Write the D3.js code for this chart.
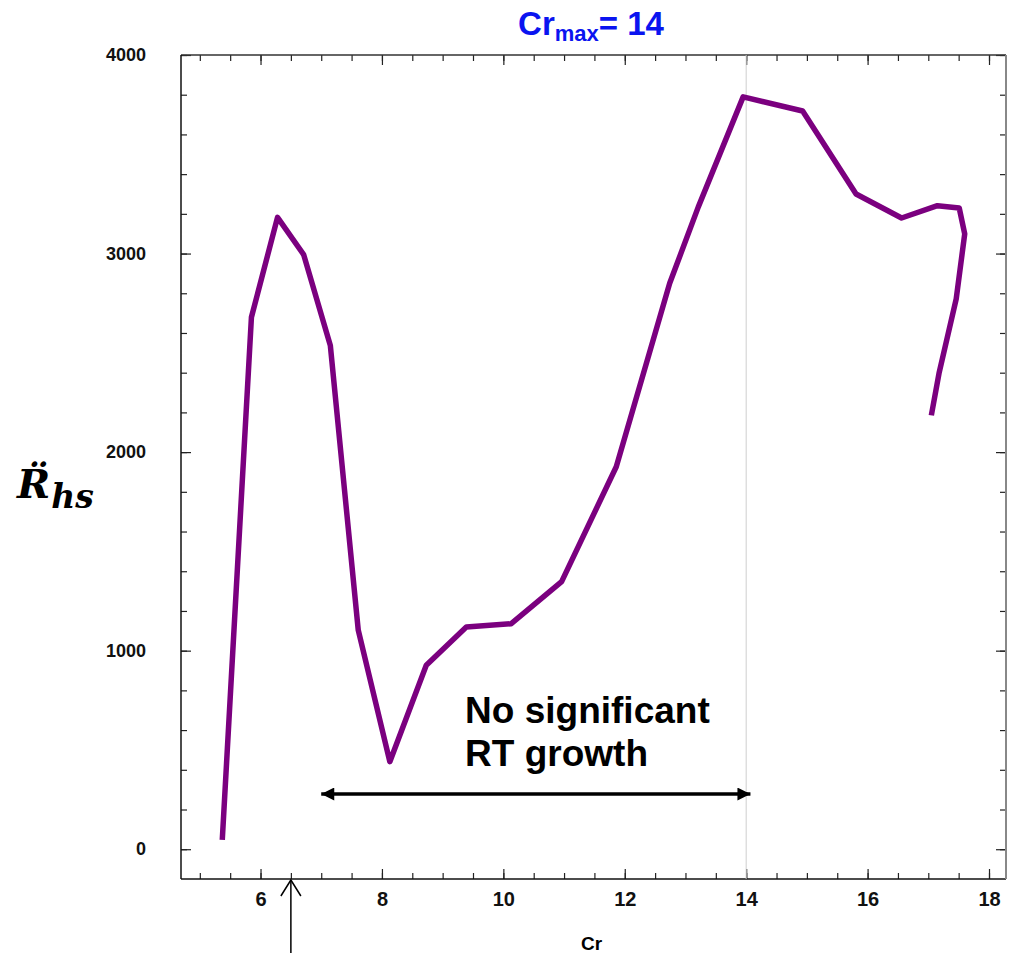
<!DOCTYPE html>
<html>
<head>
<meta charset="utf-8">
<script src="https://cdn.jsdelivr.net/npm/d3@7"></script>
<style>
  html, body { margin: 0; padding: 0; background: #fff; }
  svg { display: block; }
</style>
</head>
<body>
<div id="chart"></div>
<script>
// values
const cr = [5.37, 5.85, 6.28, 6.71, 7.15, 7.61, 8.13, 8.73, 9.39, 10.13,
  10.96, 11.86, 12.74, 13.21, 13.95, 14.93, 15.81, 16.56, 17.15, 17.51, 17.60, 17.46, 17.18, 17.05];
const rhs = [47, 2679, 3182, 2995, 2537, 1103, 441, 927, 1119, 1136,
  1348, 1926, 2850, 3234, 3789, 3718, 3300, 3179, 3241, 3229, 3099, 2772, 2402, 2185];
const xTicks = [6, 8, 10, 12, 14, 16, 18];
const yTicks = [0, 1000, 2000, 3000, 4000];
const crMax = 14;
const rangeArrow = [7.0, 14.07];   // "No significant RT growth" span
const rangeArrowLevel = 278;
const markerCr = 6.5;              // arrow under the axis
const noteLines = ["No significant", "RT growth"];

const width = 1015, height = 953;
const margin = { top: 55, right: 9, bottom: 74, left: 181 };
const innerW = width - margin.left - margin.right;
const innerH = height - margin.top - margin.bottom;

const svg = d3.select("#chart").append("svg")
  .attr("width", width)
  .attr("height", height);

const g = svg.append("g")
  .attr("transform", "translate(" + margin.left + "," + margin.top + ")");

const x = d3.scaleLinear().domain([4.69, 18.28]).range([0, innerW]);
const y = d3.scaleLinear().domain([-150, 4000]).range([innerH, 0]);

const font = "'Liberation Sans', Arial, sans-serif";

// minor ticks
const xMinor = d3.range(5, 18.01, 0.5);
const yMinor = d3.range(0, 4000.1, 200);

function styleAxis(sel) {
  sel.select(".domain").remove();
  sel.selectAll(".tick line").attr("stroke", "#222").attr("stroke-width", 1.2);
  sel.selectAll("text")
    .attr("font-family", font)
    .attr("font-weight", "bold")
    .attr("fill", "#111");
}

// bottom
g.append("g").attr("transform", "translate(0," + innerH + ")")
  .call(d3.axisBottom(x).tickValues(xMinor).tickSize(-6).tickFormat(""))
  .call(styleAxis);
g.append("g").attr("transform", "translate(0," + innerH + ")")
  .call(d3.axisBottom(x).tickValues(xTicks).tickSizeInner(-10).tickSizeOuter(0).tickPadding(13).tickFormat(d3.format("d")))
  .call(styleAxis)
  .selectAll("text").attr("font-size", 20);
// top
g.append("g")
  .call(d3.axisTop(x).tickValues(xMinor).tickSize(-6).tickFormat(""))
  .call(styleAxis);
g.append("g")
  .call(d3.axisTop(x).tickValues(xTicks).tickSize(-10).tickFormat(""))
  .call(styleAxis);
// left
g.append("g")
  .call(d3.axisLeft(y).tickValues(yMinor).tickSize(-6).tickFormat(""))
  .call(styleAxis);
g.append("g")
  .call(d3.axisLeft(y).tickValues(yTicks).tickSizeInner(-10).tickSizeOuter(0).tickPadding(35).tickFormat(d3.format("d")))
  .call(styleAxis)
  .selectAll("text").attr("font-size", 18);
// right
g.append("g").attr("transform", "translate(" + innerW + ",0)")
  .call(d3.axisRight(y).tickValues(yMinor).tickSize(-6).tickFormat(""))
  .call(styleAxis);
g.append("g").attr("transform", "translate(" + innerW + ",0)")
  .call(d3.axisRight(y).tickValues(yTicks).tickSize(-10).tickFormat(""))
  .call(styleAxis);

// frame
g.append("line").attr("x1", 0).attr("x2", innerW).attr("y1", 0).attr("y2", 0)
  .attr("stroke", "#333").attr("stroke-width", 1.5);
g.append("line").attr("x1", 0).attr("x2", innerW).attr("y1", innerH).attr("y2", innerH)
  .attr("stroke", "#111").attr("stroke-width", 1.5);
g.append("line").attr("x1", 0).attr("x2", 0).attr("y1", 0).attr("y2", innerH)
  .attr("stroke", "#111").attr("stroke-width", 1.5);
g.append("line").attr("x1", innerW).attr("x2", innerW).attr("y1", 0).attr("y2", innerH)
  .attr("stroke", "#888").attr("stroke-width", 2);

// Cr max line
g.append("line")
  .attr("x1", x(crMax)).attr("x2", x(crMax))
  .attr("y1", 0).attr("y2", innerH)
  .attr("stroke", "#cfcfcf").attr("stroke-width", 1);

// curve
const pts = cr.map((c, i) => [c, rhs[i]]);
g.append("path")
  .datum(pts)
  .attr("fill", "none")
  .attr("stroke", "#7b007f")
  .attr("stroke-width", 5.5)
  .attr("stroke-linejoin", "round")
  .attr("d", d3.line().x(d => x(d[0])).y(d => y(d[1])));

// double arrow
const defs = svg.append("defs");
defs.append("marker")
  .attr("id", "head")
  .attr("viewBox", "0 0 10 10")
  .attr("refX", 10).attr("refY", 5)
  .attr("markerWidth", 17).attr("markerHeight", 13)
  .attr("markerUnits", "userSpaceOnUse")
  .attr("orient", "auto-start-reverse")
  .append("path").attr("d", "M0,0 L10,5 L0,10 z").attr("fill", "#000");

g.append("line")
  .attr("x1", x(rangeArrow[0])).attr("x2", x(rangeArrow[1]))
  .attr("y1", y(rangeArrowLevel)).attr("y2", y(rangeArrowLevel))
  .attr("stroke", "#000").attr("stroke-width", 3.5)
  .attr("marker-start", "url(#head)")
  .attr("marker-end", "url(#head)");

g.append("text")
  .attr("x", x(9.37))
  .attr("y", y(638))
  .attr("font-family", font)
  .attr("font-weight", "bold")
  .attr("font-size", 37)
  .attr("fill", "#000")
  .selectAll("tspan")
  .data(noteLines)
  .join("tspan")
  .attr("x", x(9.37))
  .attr("dy", (d, i) => i === 0 ? 0 : 43)
  .text(d => d);

// marker arrow below axis
const mx = margin.left + x(markerCr);
const my = margin.top + innerH + 1;
svg.append("line").attr("x1", mx).attr("x2", mx).attr("y1", my).attr("y2", height)
  .attr("stroke", "#000").attr("stroke-width", 1.5);
svg.append("path")
  .attr("d", "M" + (mx - 10) + "," + (my + 16) + " L" + mx + "," + my + " L" + (mx + 10) + "," + (my + 16))
  .attr("fill", "none").attr("stroke", "#000").attr("stroke-width", 1.5);

// x label
svg.append("text")
  .attr("x", margin.left + innerW / 2 - 2)
  .attr("y", 950)
  .attr("text-anchor", "middle")
  .attr("font-family", font)
  .attr("font-weight", "bold")
  .attr("font-size", 19)
  .text("Cr");

// title
const title = svg.append("text")
  .attr("x", 591)
  .attr("y", 35)
  .attr("text-anchor", "middle")
  .attr("font-family", font)
  .attr("font-weight", "bold")
  .attr("fill", "#0a14f0");
title.append("tspan").attr("font-size", 33).text("Cr");
title.append("tspan").attr("font-size", 22).attr("dy", 6).text("max");
title.append("tspan").attr("font-size", 33).attr("dy", -6).text("= 14");

// y label
const ylab = svg.append("text")
  .attr("x", 17).attr("y", 498)
  .attr("font-family", "'DejaVu Serif', 'Liberation Serif', serif")
  .attr("font-style", "italic")
  .attr("font-weight", "bold");
ylab.append("tspan").attr("font-size", 40).text("R\u0308");
ylab.append("tspan").attr("font-size", 33).attr("dy", 10).attr("dx", 1).text("hs");
</script>
</body>
</html>
